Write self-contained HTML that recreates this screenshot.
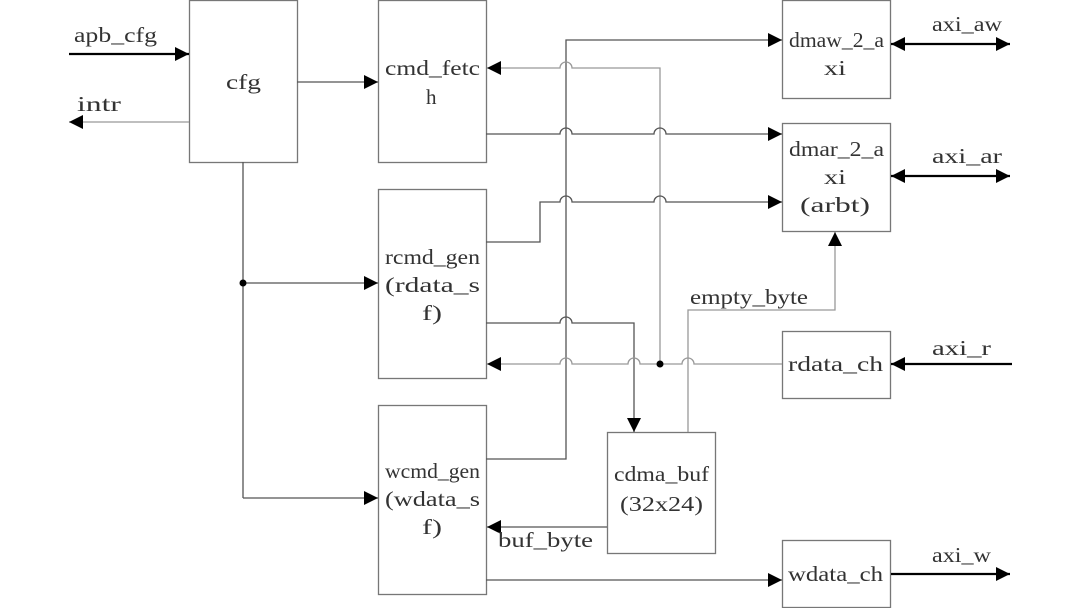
<!DOCTYPE html>
<html><head><meta charset="utf-8"><style>
html,body{margin:0;padding:0;background:#fff;}
svg{display:block;}
text{font-family:"Liberation Serif","Noto Serif CJK SC",serif;font-size:21px;fill:#333;}
</style></head><body>
<svg width="1080" height="608" viewBox="0 0 1080 608" xmlns="http://www.w3.org/2000/svg">
<defs>
<marker id="a" viewBox="0 0 10 10" refX="10" refY="5" markerWidth="14" markerHeight="14" markerUnits="userSpaceOnUse" orient="auto-start-reverse"><path d="M0,0 L10,5 L0,10 z" fill="#000"/></marker>
</defs>
<g fill="none" stroke="#777" stroke-width="1.3">
<rect x="189.5" y="0.5" width="108" height="162"/>
<rect x="378.5" y="0.5" width="108" height="162"/>
<rect x="378.5" y="189.5" width="108" height="189"/>
<rect x="378.5" y="405.5" width="108" height="189"/>
<rect x="607.5" y="432.5" width="108" height="121"/>
<rect x="782.5" y="0.5" width="108" height="98"/>
<rect x="782.5" y="123.5" width="108" height="108"/>
<rect x="782.5" y="331.5" width="108" height="67"/>
<rect x="782.5" y="540.5" width="108" height="67"/>
</g>
<g fill="none" stroke="#555" stroke-width="1.3">
<path d="M69,54 H189" stroke="#000" stroke-width="2.2" marker-end="url(#a)"/>
<path d="M189,122 H69" stroke="#999" marker-end="url(#a)"/>
<path d="M891,44 H1010" stroke="#000" stroke-width="2.2" marker-start="url(#a)" marker-end="url(#a)"/>
<path d="M891,176 H1010" stroke="#000" stroke-width="2.2" marker-start="url(#a)" marker-end="url(#a)"/>
<path d="M1012,364 H891" stroke="#000" stroke-width="2.2" marker-end="url(#a)"/>
<path d="M891,574 H1010" stroke="#000" stroke-width="2.2" marker-end="url(#a)"/>
<path d="M297,82 H378" marker-end="url(#a)"/>
<path d="M243,162 V498"/>
<path d="M243,283 H378" marker-end="url(#a)"/>
<path d="M243,498 H378" marker-end="url(#a)"/>
<path d="M486,459 H566 V40 H782" marker-end="url(#a)"/>
<path d="M660,364 V68 H572 A6,6 0 0 0 560,68 H487" stroke="#999" marker-end="url(#a)"/>
<path d="M486,134 H560 A6,6 0 0 1 572,134 H654 A6,6 0 0 1 666,134 H782" marker-end="url(#a)"/>
<path d="M486,242 H540 V202 H560 A6,6 0 0 1 572,202 H654 A6,6 0 0 1 666,202 H782" marker-end="url(#a)"/>
<path d="M486,323 H560 A6,6 0 0 1 572,323 H634 V432" marker-end="url(#a)"/>
<path d="M782,364 H694 A6,6 0 0 0 682,364 H640 A6,6 0 0 0 628,364 H572 A6,6 0 0 0 560,364 H487" stroke="#999" marker-end="url(#a)"/>
<path d="M688,432 V310 H835 V232" stroke="#999" marker-end="url(#a)"/>
<path d="M607,527 H487" marker-end="url(#a)"/>
<path d="M486,580 H782" marker-end="url(#a)"/>
</g>
<circle cx="243" cy="283" r="3.5" fill="#000"/>
<circle cx="660" cy="364" r="3.5" fill="#000"/>
<g>
<text x="74" y="42" textLength="83" lengthAdjust="spacingAndGlyphs">apb_cfg</text>
<text x="77" y="111" textLength="44" lengthAdjust="spacingAndGlyphs">intr</text>
<text x="226" y="89" textLength="35" lengthAdjust="spacingAndGlyphs">cfg</text>
<text x="385" y="75" textLength="95" lengthAdjust="spacingAndGlyphs">cmd_fetc</text>
<text x="426" y="104">h</text>
<text x="385" y="264" textLength="95" lengthAdjust="spacingAndGlyphs">rcmd_gen</text>
<text x="385" y="292" textLength="95" lengthAdjust="spacingAndGlyphs">(rdata_s</text>
<text x="422" y="320" textLength="20" lengthAdjust="spacingAndGlyphs">f)</text>
<text x="385" y="478" textLength="95" lengthAdjust="spacingAndGlyphs">wcmd_gen</text>
<text x="385" y="506" textLength="95" lengthAdjust="spacingAndGlyphs">(wdata_s</text>
<text x="422" y="534" textLength="20" lengthAdjust="spacingAndGlyphs">f)</text>
<text x="614" y="481" textLength="95" lengthAdjust="spacingAndGlyphs">cdma_buf</text>
<text x="620" y="511" textLength="83" lengthAdjust="spacingAndGlyphs">(32x24)</text>
<text x="789" y="47" textLength="95" lengthAdjust="spacingAndGlyphs">dmaw_2_a</text>
<text x="824" y="75" textLength="22" lengthAdjust="spacingAndGlyphs">xi</text>
<text x="789" y="156" textLength="95" lengthAdjust="spacingAndGlyphs">dmar_2_a</text>
<text x="824" y="184" textLength="22" lengthAdjust="spacingAndGlyphs">xi</text>
<text x="800" y="212" textLength="70" lengthAdjust="spacingAndGlyphs">(arbt)</text>
<text x="788" y="371" textLength="95" lengthAdjust="spacingAndGlyphs">rdata_ch</text>
<text x="788" y="581" textLength="95" lengthAdjust="spacingAndGlyphs">wdata_ch</text>
<text x="690" y="304" textLength="118" lengthAdjust="spacingAndGlyphs">empty_byte</text>
<text x="498" y="547" textLength="95" lengthAdjust="spacingAndGlyphs">buf_byte</text>
<text x="932" y="31" textLength="70" lengthAdjust="spacingAndGlyphs">axi_aw</text>
<text x="932" y="163" textLength="70" lengthAdjust="spacingAndGlyphs">axi_ar</text>
<text x="932" y="355" textLength="59" lengthAdjust="spacingAndGlyphs">axi_r</text>
<text x="932" y="562" textLength="59" lengthAdjust="spacingAndGlyphs">axi_w</text>
</g>
</svg>
</body></html>
